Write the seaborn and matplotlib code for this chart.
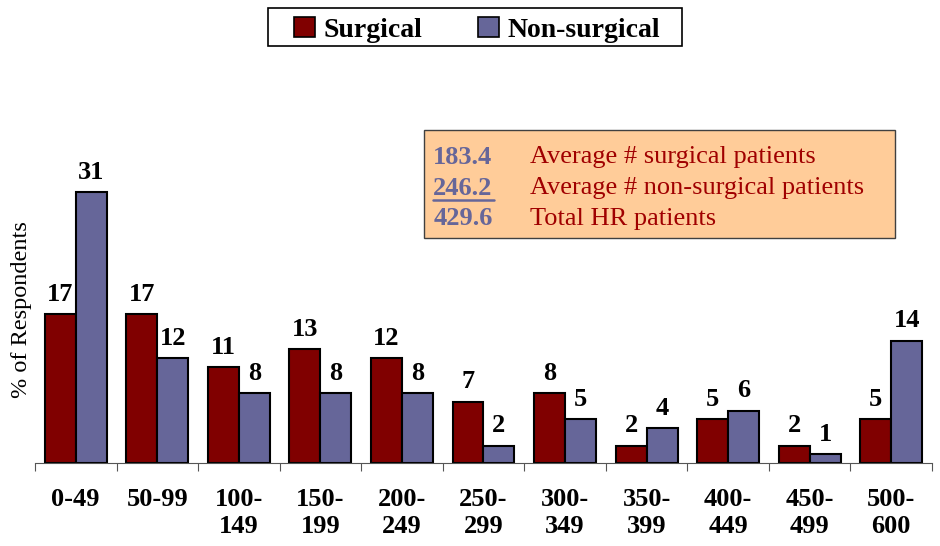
import pandas as pd
import seaborn as sns
import matplotlib.pyplot as plt
from matplotlib.patches import Rectangle
from matplotlib.lines import Line2D

# datos
rangos = ['0-49', '50-99', '100-\n149', '150-\n199', '200-\n249', '250-\n299',
          '300-\n349', '350-\n399', '400-\n449', '450-\n499', '500-\n600']
quirurgico = [17, 17, 11, 13, 12, 7, 8, 2, 5, 2, 5]
no_quirurgico = [31, 12, 8, 8, 8, 2, 5, 4, 6, 1, 14]
series = ['Surgical', 'Non-surgical']
colores = ['#800000', '#666699']

resumen_valores = ['183.4', '246.2', '429.6']
resumen_textos = ['Average # surgical patients', 'Average # non-surgical patients', 'Total HR patients']

df = pd.DataFrame({
    'rango': rangos * 2,
    'pct': quirurgico + no_quirurgico,
    'serie': [series[0]] * len(rangos) + [series[1]] * len(rangos),
})

sns.set_style('white')
plt.rcParams['font.family'] = ['Liberation Serif', 'DejaVu Serif']
plt.rcParams['text.color'] = 'black'
plt.rcParams['axes.labelcolor'] = 'black'
plt.rcParams['xtick.color'] = 'black'

fig = plt.figure(figsize=(9.4, 5.46), dpi=100)
ax = fig.add_axes([0.0372, 0.152, 0.9543, 0.5604])

sns.barplot(data=df, x='rango', y='pct', hue='serie', palette=colores, saturation=1,
            width=0.76, edgecolor='black', linewidth=1.5, ax=ax, legend=False)

for cont in ax.containers:
    ax.bar_label(cont, padding=6, fontsize=19, fontweight='bold', color='black')

ax.set_ylim(0, 35)
ax.set_xlim(-0.5, len(rangos) - 0.5)
ax.set_yticks([])
ax.set_xlabel('')
ax.set_ylabel('% of Respondents', fontsize=17.5, labelpad=2)
for s in ['top', 'right', 'left']:
    ax.spines[s].set_visible(False)
ax.spines['bottom'].set_color('#555555')

ax.set_xticks([i - 0.5 for i in range(len(rangos) + 1)])
ax.set_xticklabels([])
ax.tick_params(axis='x', which='major', length=6, direction='out', color='#555555', bottom=True)
ax.set_xticks(range(len(rangos)), minor=True)
ax.set_xticklabels(rangos, minor=True, fontsize=19, fontweight='bold')
ax.tick_params(axis='x', which='minor', length=0, pad=18)

# leyenda arriba (marco dibujado aparte)
fig.add_artist(Rectangle((0.2851, 0.9158), 0.4404, 0.0696, transform=fig.transFigure,
                         facecolor='white', edgecolor='black', linewidth=1.2))
handles = [Rectangle((0, 0), 1, 1, facecolor=c, edgecolor='black', linewidth=1.2) for c in colores]
leg = fig.legend(handles, series, loc='center', bbox_to_anchor=(0.5075, 0.945), ncol=2,
                 frameon=False, handlelength=0.75, handleheight=0.75,
                 handletextpad=0.3, columnspacing=2.0, borderpad=0, borderaxespad=0,
                 prop={'family': 'Liberation Serif', 'weight': 'bold', 'size': 20})

# cuadro de resumen
fig.add_artist(Rectangle((0.451, 0.564), 0.501, 0.198, transform=fig.transFigure,
                         facecolor='#FFCC99', edgecolor='#404040', linewidth=1))
ys = [0.712, 0.655, 0.599]
for y, v, t in zip(ys, resumen_valores, resumen_textos):
    fig.text(0.461, y, v, color='#666699', fontsize=19, fontweight='bold', va='center')
    fig.text(0.564, y, t, color='#A00000', fontsize=19, va='center')
fig.add_artist(Line2D([0.461, 0.525], [0.634, 0.634], transform=fig.transFigure,
                      color='#666699', linewidth=1.8))

fig.savefig('out.png', dpi=100)
